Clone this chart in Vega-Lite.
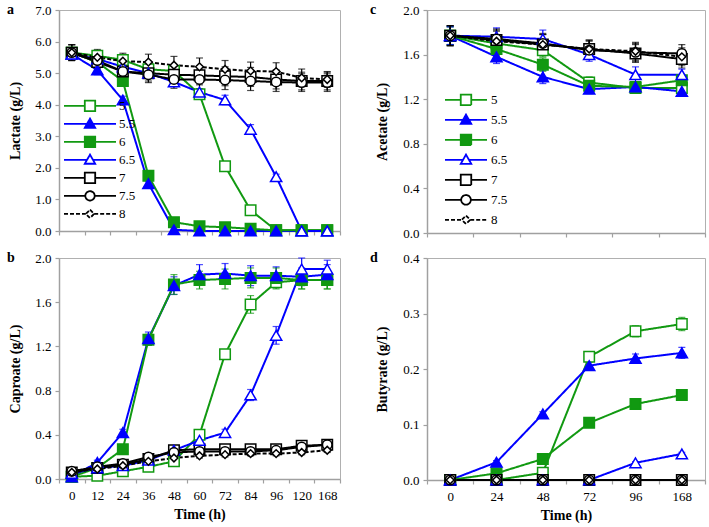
{
  "$schema": "https://vega.github.io/schema/vega-lite/v6.json",
  "padding": {"left": 6, "top": 2, "right": 2, "bottom": 2},
  "config": {
    "font": "Liberation Serif",
    "view": {"stroke": "#b0b0b0", "strokeWidth": 1},
    "axis": {"domainColor": "#a0a0a0", "domainWidth": 1.5, "tickColor": "#a0a0a0", "tickWidth": 1.2, "tickSize": 4, "grid": false, "labelFont": "Liberation Serif", "labelFontSize": 13, "labelColor": "#000000", "labelPadding": 4, "titleFont": "Liberation Serif", "titleFontSize": 14, "titleFontWeight": "bold", "titleColor": "#000000"},
    "title": {"font": "Liberation Serif", "fontSize": 14, "fontWeight": "bold", "color": "#000000", "anchor": "start", "frame": "group"}
  },
  "resolve": {
    "scale": {"fill": "independent", "stroke": "independent", "strokeDash": "independent", "shape": "independent"},
    "legend": {"fill": "independent", "stroke": "independent", "strokeDash": "independent", "shape": "independent"}
  },
  "columns": 2,
  "align": "each",
  "spacing": {"row": 9, "column": 27},
  "datasets": {
    "lactate": [
      {"t":0,"pH":"5","v":5.65,"e":0.1},{"t":12,"pH":"5","v":5.55,"e":0.1},{"t":24,"pH":"5","v":5.42,"e":0.1},{"t":36,"pH":"5","v":5.12,"e":0.1},{"t":48,"pH":"5","v":5.07,"e":0.1},{"t":60,"pH":"5","v":4.33,"e":0.12},{"t":72,"pH":"5","v":2.05,"e":0.1},{"t":84,"pH":"5","v":0.66,"e":0.08},{"t":96,"pH":"5","v":0.02,"e":0.02},{"t":120,"pH":"5","v":0.02,"e":0.02},{"t":168,"pH":"5","v":0.02,"e":0.02},
      {"t":0,"pH":"5.5","v":5.6,"e":0.1},{"t":12,"pH":"5.5","v":5.1,"e":0.15},{"t":24,"pH":"5.5","v":4.15,"e":0.12},{"t":36,"pH":"5.5","v":1.5,"e":0.06},{"t":48,"pH":"5.5","v":0.04,"e":0.02},{"t":60,"pH":"5.5","v":0.0,"e":0.01},{"t":72,"pH":"5.5","v":0.0,"e":0.01},{"t":84,"pH":"5.5","v":0.0,"e":0.01},{"t":96,"pH":"5.5","v":0.0,"e":0.01},{"t":120,"pH":"5.5","v":0.0,"e":0.01},{"t":168,"pH":"5.5","v":0.0,"e":0.01},
      {"t":0,"pH":"6","v":5.65,"e":0.1},{"t":12,"pH":"6","v":5.35,"e":0.1},{"t":24,"pH":"6","v":4.75,"e":0.1},{"t":36,"pH":"6","v":1.75,"e":0.08},{"t":48,"pH":"6","v":0.28,"e":0.03},{"t":60,"pH":"6","v":0.15,"e":0.02},{"t":72,"pH":"6","v":0.12,"e":0.02},{"t":84,"pH":"6","v":0.07,"e":0.02},{"t":96,"pH":"6","v":0.02,"e":0.01},{"t":120,"pH":"6","v":0.02,"e":0.01},{"t":168,"pH":"6","v":0.02,"e":0.01},
      {"t":0,"pH":"6.5","v":5.6,"e":0.1},{"t":12,"pH":"6.5","v":5.45,"e":0.1},{"t":24,"pH":"6.5","v":5.2,"e":0.1},{"t":36,"pH":"6.5","v":5.0,"e":0.1},{"t":48,"pH":"6.5","v":4.72,"e":0.12},{"t":60,"pH":"6.5","v":4.4,"e":0.1},{"t":72,"pH":"6.5","v":4.15,"e":0.15},{"t":84,"pH":"6.5","v":3.22,"e":0.15},{"t":96,"pH":"6.5","v":1.72,"e":0.08},{"t":120,"pH":"6.5","v":0.0,"e":0.01},{"t":168,"pH":"6.5","v":0.0,"e":0.01},
      {"t":0,"pH":"7","v":5.65,"e":0.25},{"t":12,"pH":"7","v":5.35,"e":0.25},{"t":24,"pH":"7","v":5.05,"e":0.25},{"t":36,"pH":"7","v":5.0,"e":0.25},{"t":48,"pH":"7","v":4.95,"e":0.28},{"t":60,"pH":"7","v":4.93,"e":0.3},{"t":72,"pH":"7","v":4.9,"e":0.3},{"t":84,"pH":"7","v":4.88,"e":0.3},{"t":96,"pH":"7","v":4.8,"e":0.3},{"t":120,"pH":"7","v":4.75,"e":0.28},{"t":168,"pH":"7","v":4.75,"e":0.28},
      {"t":0,"pH":"7.5","v":5.65,"e":0.25},{"t":12,"pH":"7.5","v":5.4,"e":0.25},{"t":24,"pH":"7.5","v":5.05,"e":0.25},{"t":36,"pH":"7.5","v":4.95,"e":0.25},{"t":48,"pH":"7.5","v":4.8,"e":0.28},{"t":60,"pH":"7.5","v":4.8,"e":0.3},{"t":72,"pH":"7.5","v":4.78,"e":0.3},{"t":84,"pH":"7.5","v":4.75,"e":0.3},{"t":96,"pH":"7.5","v":4.72,"e":0.3},{"t":120,"pH":"7.5","v":4.7,"e":0.28},{"t":168,"pH":"7.5","v":4.7,"e":0.28},
      {"t":0,"pH":"8","v":5.65,"e":0.25},{"t":12,"pH":"8","v":5.5,"e":0.25},{"t":24,"pH":"8","v":5.38,"e":0.25},{"t":36,"pH":"8","v":5.35,"e":0.25},{"t":48,"pH":"8","v":5.25,"e":0.28},{"t":60,"pH":"8","v":5.2,"e":0.28},{"t":72,"pH":"8","v":5.12,"e":0.28},{"t":84,"pH":"8","v":5.07,"e":0.28},{"t":96,"pH":"8","v":5.05,"e":0.28},{"t":120,"pH":"8","v":4.85,"e":0.28},{"t":168,"pH":"8","v":4.8,"e":0.25}
    ],
    "caproate": [
      {"t":0,"pH":"5","v":0.02,"e":0.01},{"t":12,"pH":"5","v":0.03,"e":0.01},{"t":24,"pH":"5","v":0.07,"e":0.01},{"t":36,"pH":"5","v":0.11,"e":0.02},{"t":48,"pH":"5","v":0.16,"e":0.02},{"t":60,"pH":"5","v":0.4,"e":0.03},{"t":72,"pH":"5","v":1.13,"e":0.04},{"t":84,"pH":"5","v":1.58,"e":0.08},{"t":96,"pH":"5","v":1.78,"e":0.06},{"t":120,"pH":"5","v":1.8,"e":0.08},{"t":168,"pH":"5","v":1.8,"e":0.08},
      {"t":0,"pH":"5.5","v":0.02,"e":0.01},{"t":12,"pH":"5.5","v":0.15,"e":0.02},{"t":24,"pH":"5.5","v":0.42,"e":0.03},{"t":36,"pH":"5.5","v":1.27,"e":0.06},{"t":48,"pH":"5.5","v":1.75,"e":0.08},{"t":60,"pH":"5.5","v":1.85,"e":0.09},{"t":72,"pH":"5.5","v":1.86,"e":0.09},{"t":84,"pH":"5.5","v":1.84,"e":0.09},{"t":96,"pH":"5.5","v":1.84,"e":0.08},{"t":120,"pH":"5.5","v":1.83,"e":0.08},{"t":168,"pH":"5.5","v":1.85,"e":0.09},
      {"t":0,"pH":"6","v":0.02,"e":0.01},{"t":12,"pH":"6","v":0.1,"e":0.01},{"t":24,"pH":"6","v":0.27,"e":0.02},{"t":36,"pH":"6","v":1.26,"e":0.05},{"t":48,"pH":"6","v":1.76,"e":0.09},{"t":60,"pH":"6","v":1.8,"e":0.08},{"t":72,"pH":"6","v":1.81,"e":0.09},{"t":84,"pH":"6","v":1.82,"e":0.09},{"t":96,"pH":"6","v":1.82,"e":0.09},{"t":120,"pH":"6","v":1.8,"e":0.08},{"t":168,"pH":"6","v":1.8,"e":0.08},
      {"t":0,"pH":"6.5","v":0.05,"e":0.01},{"t":12,"pH":"6.5","v":0.1,"e":0.01},{"t":24,"pH":"6.5","v":0.12,"e":0.01},{"t":36,"pH":"6.5","v":0.17,"e":0.02},{"t":48,"pH":"6.5","v":0.26,"e":0.02},{"t":60,"pH":"6.5","v":0.35,"e":0.03},{"t":72,"pH":"6.5","v":0.42,"e":0.03},{"t":84,"pH":"6.5","v":0.76,"e":0.05},{"t":96,"pH":"6.5","v":1.3,"e":0.08},{"t":120,"pH":"6.5","v":1.9,"e":0.1},{"t":168,"pH":"6.5","v":1.9,"e":0.08},
      {"t":0,"pH":"7","v":0.06,"e":0.01},{"t":12,"pH":"7","v":0.1,"e":0.01},{"t":24,"pH":"7","v":0.13,"e":0.01},{"t":36,"pH":"7","v":0.18,"e":0.02},{"t":48,"pH":"7","v":0.26,"e":0.02},{"t":60,"pH":"7","v":0.27,"e":0.02},{"t":72,"pH":"7","v":0.27,"e":0.02},{"t":84,"pH":"7","v":0.27,"e":0.02},{"t":96,"pH":"7","v":0.27,"e":0.02},{"t":120,"pH":"7","v":0.3,"e":0.02},{"t":168,"pH":"7","v":0.31,"e":0.02},
      {"t":0,"pH":"7.5","v":0.07,"e":0.01},{"t":12,"pH":"7.5","v":0.11,"e":0.01},{"t":24,"pH":"7.5","v":0.14,"e":0.01},{"t":36,"pH":"7.5","v":0.2,"e":0.02},{"t":48,"pH":"7.5","v":0.24,"e":0.02},{"t":60,"pH":"7.5","v":0.25,"e":0.02},{"t":72,"pH":"7.5","v":0.25,"e":0.02},{"t":84,"pH":"7.5","v":0.25,"e":0.02},{"t":96,"pH":"7.5","v":0.26,"e":0.02},{"t":120,"pH":"7.5","v":0.29,"e":0.02},{"t":168,"pH":"7.5","v":0.31,"e":0.02},
      {"t":0,"pH":"8","v":0.06,"e":0.01},{"t":12,"pH":"8","v":0.09,"e":0.01},{"t":24,"pH":"8","v":0.12,"e":0.01},{"t":36,"pH":"8","v":0.16,"e":0.02},{"t":48,"pH":"8","v":0.19,"e":0.02},{"t":60,"pH":"8","v":0.21,"e":0.02},{"t":72,"pH":"8","v":0.22,"e":0.02},{"t":84,"pH":"8","v":0.23,"e":0.02},{"t":96,"pH":"8","v":0.23,"e":0.02},{"t":120,"pH":"8","v":0.24,"e":0.02},{"t":168,"pH":"8","v":0.26,"e":0.02}
    ],
    "acetate": [
      {"t":0,"pH":"5","v":1.77,"e":0.08},{"t":24,"pH":"5","v":1.7,"e":0.06},{"t":48,"pH":"5","v":1.64,"e":0.06},{"t":72,"pH":"5","v":1.35,"e":0.05},{"t":96,"pH":"5","v":1.3,"e":0.04},{"t":168,"pH":"5","v":1.3,"e":0.04},
      {"t":0,"pH":"5.5","v":1.77,"e":0.08},{"t":24,"pH":"5.5","v":1.58,"e":0.06},{"t":48,"pH":"5.5","v":1.4,"e":0.06},{"t":72,"pH":"5.5","v":1.29,"e":0.04},{"t":96,"pH":"5.5","v":1.31,"e":0.04},{"t":168,"pH":"5.5","v":1.27,"e":0.04},
      {"t":0,"pH":"6","v":1.77,"e":0.08},{"t":24,"pH":"6","v":1.65,"e":0.06},{"t":48,"pH":"6","v":1.51,"e":0.06},{"t":72,"pH":"6","v":1.32,"e":0.05},{"t":96,"pH":"6","v":1.31,"e":0.04},{"t":168,"pH":"6","v":1.37,"e":0.04},
      {"t":0,"pH":"6.5","v":1.77,"e":0.08},{"t":24,"pH":"6.5","v":1.76,"e":0.08},{"t":48,"pH":"6.5","v":1.74,"e":0.08},{"t":72,"pH":"6.5","v":1.6,"e":0.06},{"t":96,"pH":"6.5","v":1.42,"e":0.07},{"t":168,"pH":"6.5","v":1.42,"e":0.05},
      {"t":0,"pH":"7","v":1.77,"e":0.09},{"t":24,"pH":"7","v":1.73,"e":0.09},{"t":48,"pH":"7","v":1.69,"e":0.09},{"t":72,"pH":"7","v":1.65,"e":0.08},{"t":96,"pH":"7","v":1.61,"e":0.08},{"t":168,"pH":"7","v":1.56,"e":0.08},
      {"t":0,"pH":"7.5","v":1.77,"e":0.09},{"t":24,"pH":"7.5","v":1.74,"e":0.09},{"t":48,"pH":"7.5","v":1.7,"e":0.09},{"t":72,"pH":"7.5","v":1.64,"e":0.08},{"t":96,"pH":"7.5","v":1.62,"e":0.08},{"t":168,"pH":"7.5","v":1.61,"e":0.08},
      {"t":0,"pH":"8","v":1.77,"e":0.09},{"t":24,"pH":"8","v":1.72,"e":0.09},{"t":48,"pH":"8","v":1.69,"e":0.09},{"t":72,"pH":"8","v":1.65,"e":0.08},{"t":96,"pH":"8","v":1.63,"e":0.08},{"t":168,"pH":"8","v":1.58,"e":0.08}
    ],
    "butyrate": [
      {"t":0,"pH":"5","v":0,"e":0},{"t":24,"pH":"5","v":0,"e":0},{"t":48,"pH":"5","v":0.013,"e":0.003},{"t":72,"pH":"5","v":0.222,"e":0.008},{"t":96,"pH":"5","v":0.268,"e":0.01},{"t":168,"pH":"5","v":0.281,"e":0.012},
      {"t":0,"pH":"5.5","v":0,"e":0},{"t":24,"pH":"5.5","v":0.032,"e":0.003},{"t":48,"pH":"5.5","v":0.119,"e":0.004},{"t":72,"pH":"5.5","v":0.206,"e":0.006},{"t":96,"pH":"5.5","v":0.219,"e":0.008},{"t":168,"pH":"5.5","v":0.229,"e":0.01},
      {"t":0,"pH":"6","v":0,"e":0},{"t":24,"pH":"6","v":0.012,"e":0.002},{"t":48,"pH":"6","v":0.038,"e":0.003},{"t":72,"pH":"6","v":0.103,"e":0.004},{"t":96,"pH":"6","v":0.137,"e":0.005},{"t":168,"pH":"6","v":0.153,"e":0.005},
      {"t":0,"pH":"6.5","v":0,"e":0},{"t":24,"pH":"6.5","v":0,"e":0},{"t":48,"pH":"6.5","v":0,"e":0},{"t":72,"pH":"6.5","v":0,"e":0},{"t":96,"pH":"6.5","v":0.031,"e":0.002},{"t":168,"pH":"6.5","v":0.047,"e":0.003},
      {"t":0,"pH":"7","v":0,"e":0},{"t":24,"pH":"7","v":0,"e":0},{"t":48,"pH":"7","v":0,"e":0},{"t":72,"pH":"7","v":0,"e":0},{"t":96,"pH":"7","v":0,"e":0},{"t":168,"pH":"7","v":0,"e":0},
      {"t":0,"pH":"7.5","v":0,"e":0},{"t":24,"pH":"7.5","v":0,"e":0},{"t":48,"pH":"7.5","v":0,"e":0},{"t":72,"pH":"7.5","v":0,"e":0},{"t":96,"pH":"7.5","v":0,"e":0},{"t":168,"pH":"7.5","v":0,"e":0},
      {"t":0,"pH":"8","v":0,"e":0},{"t":24,"pH":"8","v":0,"e":0},{"t":48,"pH":"8","v":0,"e":0},{"t":72,"pH":"8","v":0,"e":0},{"t":96,"pH":"8","v":0,"e":0},{"t":168,"pH":"8","v":0,"e":0}
    ]
  },
  "concat": [
    {
      "width": 281, "height": 221,
      "data": {"name": "lactate"},
      "title": {"text": "a", "offset": -13, "dx": -52},
      "encoding": {
        "x": {"field": "t", "type": "ordinal", "bandPosition": 0.5, "scale": {"type": "band", "paddingInner": 0, "paddingOuter": 0}, "axis": {"labels": false, "title": null, "tickBand": "extent"}},
        "y": {"field": "v", "type": "quantitative", "scale": {"domain": [0, 7], "nice": false}, "axis": {"title": "Lactate (g/L)", "values": [0,1,2,3,4,5,6,7], "format": ".1f", "titlePadding": 12}}
      },
      "layer": [
        {"mark": {"type": "errorbar", "ticks": {"size": 7}, "thickness": 1.2},
         "encoding": {"yError": {"field": "e"}, "color": {"field": "pH", "type": "nominal", "scale": {"domain": ["5","5.5","6","6.5","7","7.5","8"], "range": ["#119911","#0000ff","#119911","#0000ff","#000000","#000000","#000000"]}, "legend": null}}},
        {"mark": {"type": "line", "strokeWidth": 2},
         "encoding": {"color": {"field": "pH", "type": "nominal", "legend": null}, "strokeDash": {"field": "pH", "type": "nominal", "scale": {"domain": ["5","5.5","6","6.5","7","7.5","8"], "range": [[1,0],[1,0],[1,0],[1,0],[1,0],[1,0],[4,2]]}}}},
        {"transform": [{"filter": {"field": "pH", "oneOf": ["5","6","7"]}}],
         "mark": {"type": "point", "shape": "square", "size": 110, "filled": false, "strokeWidth": 1.5, "opacity": 1},
         "encoding": {"color": {"field": "pH", "type": "nominal", "legend": null}, "fill": {"field": "pH", "type": "nominal", "scale": {"domain": ["5","5.5","6","6.5","7","7.5","8"], "range": ["#ffffff","#0000ff","#119911","#ffffff","#ffffff","#ffffff","#ffffff"]}}}},
        {"transform": [{"filter": {"field": "pH", "oneOf": ["5.5","6.5"]}}],
         "mark": {"type": "point", "shape": "triangle-up", "size": 125, "filled": false, "strokeWidth": 1.5, "opacity": 1},
         "encoding": {"color": {"field": "pH", "type": "nominal", "legend": null}, "fill": {"field": "pH", "type": "nominal"}}},
        {"transform": [{"filter": {"field": "pH", "oneOf": ["7.5"]}}],
         "mark": {"type": "point", "shape": "circle", "size": 90, "filled": false, "strokeWidth": 1.5, "opacity": 1},
         "encoding": {"color": {"field": "pH", "type": "nominal", "legend": null}, "fill": {"field": "pH", "type": "nominal"}}},
        {"transform": [{"filter": {"field": "pH", "oneOf": ["8"]}}],
         "mark": {"type": "point", "shape": "diamond", "size": 60, "filled": false, "strokeWidth": 1.5, "opacity": 1},
         "encoding": {"color": {"field": "pH", "type": "nominal", "legend": null}, "fill": {"field": "pH", "type": "nominal"}}},
        {"mark": {"type": "point", "opacity": 0, "size": 1, "filled": true},
         "encoding": {
           "shape": {"field": "pH", "type": "nominal", "scale": {"domain": ["5","5.5","6","6.5","7","7.5","8"], "range": [
             "M-1,0H-0.2M0.2,0H1M-0.2,-0.2H0.2V0.2H-0.2Z",
             "M-1,0H-0.12M0.12,0H1M0,-0.2L0.2,0.15H-0.2Z",
             "M-1,0H-0.2M0.2,0H1M-0.2,-0.2H0.2V0.2H-0.2Z",
             "M-1,0H-0.12M0.12,0H1M0,-0.2L0.2,0.15H-0.2Z",
             "M-1,0H-0.2M0.2,0H1M-0.2,-0.2H0.2V0.2H-0.2Z",
             "M-1,0H-0.18M0.18,0H1M-0.18,0A0.18,0.18,0,1,1,0.18,0A0.18,0.18,0,1,1,-0.18,0Z",
             "M0,-0.16L0.16,0L0,0.16L-0.16,0ZM-1,0H-0.16M0.16,0H1"]},
             "legend": {"title": null, "orient": "none", "legendX": 4, "legendY": 87, "padding": 0, "symbolSize": 2704, "symbolStrokeWidth": 1.8, "symbolFillColor": "#ffffff", "clipHeight": 17.7, "rowPadding": 0, "labelFont": "Liberation Serif", "labelFontSize": 13, "labelColor": "#000000", "labelOffset": 2, "symbolOpacity": 1}},
           "stroke": {"field": "pH", "type": "nominal", "scale": {"domain": ["5","5.5","6","6.5","7","7.5","8"], "range": ["#119911","#0000ff","#119911","#0000ff","#000000","#000000","#000000"]}, "legend": {"title": null, "symbolFillColor": "#ffffff"}},
           "fill": {"field": "pH", "type": "nominal", "legend": {"title": null, "symbolFillColor": "#ffffff"}},
           "strokeDash": {"field": "pH", "type": "nominal", "legend": {"title": null, "symbolFillColor": "#ffffff"}}
         }}
      ]
    },
    {
      "width": 278, "height": 223,
      "data": {"name": "acetate"},
      "title": {"text": "c", "offset": -13, "dx": -57},
      "encoding": {
        "x": {"field": "t", "type": "ordinal", "bandPosition": 0.5, "scale": {"type": "band", "paddingInner": 0, "paddingOuter": 0}, "axis": {"labels": false, "title": null, "tickBand": "extent"}},
        "y": {"field": "v", "type": "quantitative", "scale": {"domain": [0, 2], "nice": false}, "axis": {"title": "Acetate (g/L)", "values": [0,0.4,0.8,1.2,1.6,2.0], "format": ".1f", "titlePadding": 13}}
      },
      "layer": [
        {"mark": {"type": "errorbar", "ticks": {"size": 7}, "thickness": 1.2},
         "encoding": {"yError": {"field": "e"}, "color": {"field": "pH", "type": "nominal", "scale": {"domain": ["5","5.5","6","6.5","7","7.5","8"], "range": ["#119911","#0000ff","#119911","#0000ff","#000000","#000000","#000000"]}, "legend": null}}},
        {"mark": {"type": "line", "strokeWidth": 2},
         "encoding": {"color": {"field": "pH", "type": "nominal", "legend": null}, "strokeDash": {"field": "pH", "type": "nominal", "scale": {"domain": ["5","5.5","6","6.5","7","7.5","8"], "range": [[1,0],[1,0],[1,0],[1,0],[1,0],[1,0],[4,2]]}}}},
        {"transform": [{"filter": {"field": "pH", "oneOf": ["5","6","7"]}}],
         "mark": {"type": "point", "shape": "square", "size": 110, "filled": false, "strokeWidth": 1.5, "opacity": 1},
         "encoding": {"color": {"field": "pH", "type": "nominal", "legend": null}, "fill": {"field": "pH", "type": "nominal", "scale": {"domain": ["5","5.5","6","6.5","7","7.5","8"], "range": ["#ffffff","#0000ff","#119911","#ffffff","#ffffff","#ffffff","#ffffff"]}}}},
        {"transform": [{"filter": {"field": "pH", "oneOf": ["5.5","6.5"]}}],
         "mark": {"type": "point", "shape": "triangle-up", "size": 125, "filled": false, "strokeWidth": 1.5, "opacity": 1},
         "encoding": {"color": {"field": "pH", "type": "nominal", "legend": null}, "fill": {"field": "pH", "type": "nominal"}}},
        {"transform": [{"filter": {"field": "pH", "oneOf": ["7.5"]}}],
         "mark": {"type": "point", "shape": "circle", "size": 90, "filled": false, "strokeWidth": 1.5, "opacity": 1},
         "encoding": {"color": {"field": "pH", "type": "nominal", "legend": null}, "fill": {"field": "pH", "type": "nominal"}}},
        {"transform": [{"filter": {"field": "pH", "oneOf": ["8"]}}],
         "mark": {"type": "point", "shape": "diamond", "size": 60, "filled": false, "strokeWidth": 1.5, "opacity": 1},
         "encoding": {"color": {"field": "pH", "type": "nominal", "legend": null}, "fill": {"field": "pH", "type": "nominal"}}},
        {"mark": {"type": "point", "opacity": 0, "size": 1, "filled": true},
         "encoding": {
           "shape": {"field": "pH", "type": "nominal", "scale": {"domain": ["5","5.5","6","6.5","7","7.5","8"], "range": [
             "M-1,0H-0.25M0.25,0H1M-0.25,-0.25H0.25V0.25H-0.25Z",
             "M-1,0H-0.15M0.15,0H1M0,-0.25L0.25,0.19H-0.25Z",
             "M-1,0H-0.25M0.25,0H1M-0.25,-0.25H0.25V0.25H-0.25Z",
             "M-1,0H-0.15M0.15,0H1M0,-0.25L0.25,0.19H-0.25Z",
             "M-1,0H-0.25M0.25,0H1M-0.25,-0.25H0.25V0.25H-0.25Z",
             "M-1,0H-0.23M0.23,0H1M-0.23,0A0.23,0.23,0,1,1,0.23,0A0.23,0.23,0,1,1,-0.23,0Z",
             "M0,-0.2L0.2,0L0,0.2L-0.2,0ZM-1,0H-0.2M0.2,0H1"]},
             "legend": {"title": null, "orient": "none", "legendX": 17, "legendY": 80, "padding": 0, "symbolSize": 1764, "symbolStrokeWidth": 1.8, "symbolFillColor": "#ffffff", "clipHeight": 19.7, "rowPadding": 0, "labelFont": "Liberation Serif", "labelFontSize": 13, "labelColor": "#000000", "labelOffset": 3, "symbolOpacity": 1}},
           "stroke": {"field": "pH", "type": "nominal", "scale": {"domain": ["5","5.5","6","6.5","7","7.5","8"], "range": ["#119911","#0000ff","#119911","#0000ff","#000000","#000000","#000000"]}, "legend": {"title": null, "symbolFillColor": "#ffffff"}},
           "fill": {"field": "pH", "type": "nominal", "legend": {"title": null, "symbolFillColor": "#ffffff"}},
           "strokeDash": {"field": "pH", "type": "nominal", "legend": {"title": null, "symbolFillColor": "#ffffff"}}
         }}
      ]
    },
    {
      "width": 281, "height": 221,
      "data": {"name": "caproate"},
      "title": {"text": "b", "offset": -13, "dx": -52},
      "encoding": {
        "x": {"field": "t", "type": "ordinal", "bandPosition": 0.5, "scale": {"type": "band", "paddingInner": 0, "paddingOuter": 0}, "axis": {"title": "Time (h)", "tickBand": "extent", "labelAngle": 0, "labelPadding": 6, "titlePadding": 5}},
        "y": {"field": "v", "type": "quantitative", "scale": {"domain": [0, 2], "nice": false}, "axis": {"title": "Caproate (g/L)", "values": [0,0.4,0.8,1.2,1.6,2.0], "format": ".1f", "titlePadding": 12}}
      },
      "layer": [
        {"mark": {"type": "errorbar", "ticks": {"size": 7}, "thickness": 1.2},
         "encoding": {"yError": {"field": "e"}, "color": {"field": "pH", "type": "nominal", "scale": {"domain": ["5","5.5","6","6.5","7","7.5","8"], "range": ["#119911","#0000ff","#119911","#0000ff","#000000","#000000","#000000"]}, "legend": null}}},
        {"mark": {"type": "line", "strokeWidth": 2},
         "encoding": {"color": {"field": "pH", "type": "nominal", "legend": null}, "strokeDash": {"field": "pH", "type": "nominal", "scale": {"domain": ["5","5.5","6","6.5","7","7.5","8"], "range": [[1,0],[1,0],[1,0],[1,0],[1,0],[1,0],[4,2]]}, "legend": null}}},
        {"transform": [{"filter": {"field": "pH", "oneOf": ["5","6","7"]}}],
         "mark": {"type": "point", "shape": "square", "size": 110, "filled": false, "strokeWidth": 1.5, "opacity": 1},
         "encoding": {"color": {"field": "pH", "type": "nominal", "legend": null}, "fill": {"field": "pH", "type": "nominal", "scale": {"domain": ["5","5.5","6","6.5","7","7.5","8"], "range": ["#ffffff","#0000ff","#119911","#ffffff","#ffffff","#ffffff","#ffffff"]}, "legend": null}}},
        {"transform": [{"filter": {"field": "pH", "oneOf": ["5.5","6.5"]}}],
         "mark": {"type": "point", "shape": "triangle-up", "size": 125, "filled": false, "strokeWidth": 1.5, "opacity": 1},
         "encoding": {"color": {"field": "pH", "type": "nominal", "legend": null}, "fill": {"field": "pH", "type": "nominal", "legend": null}}},
        {"transform": [{"filter": {"field": "pH", "oneOf": ["7.5"]}}],
         "mark": {"type": "point", "shape": "circle", "size": 90, "filled": false, "strokeWidth": 1.5, "opacity": 1},
         "encoding": {"color": {"field": "pH", "type": "nominal", "legend": null}, "fill": {"field": "pH", "type": "nominal", "legend": null}}},
        {"transform": [{"filter": {"field": "pH", "oneOf": ["8"]}}],
         "mark": {"type": "point", "shape": "diamond", "size": 60, "filled": false, "strokeWidth": 1.5, "opacity": 1},
         "encoding": {"color": {"field": "pH", "type": "nominal", "legend": null}, "fill": {"field": "pH", "type": "nominal", "legend": null}}}
      ]
    },
    {
      "width": 278, "height": 222,
      "data": {"name": "butyrate"},
      "title": {"text": "d", "offset": -13, "dx": -57},
      "encoding": {
        "x": {"field": "t", "type": "ordinal", "bandPosition": 0.5, "scale": {"type": "band", "paddingInner": 0, "paddingOuter": 0}, "axis": {"title": "Time (h)", "tickBand": "extent", "labelAngle": 0, "labelPadding": 6, "titlePadding": 5}},
        "y": {"field": "v", "type": "quantitative", "scale": {"domain": [0, 0.4], "nice": false}, "axis": {"title": "Butyrate (g/L)", "values": [0,0.1,0.2,0.3,0.4], "format": ".1f", "titlePadding": 13}}
      },
      "layer": [
        {"mark": {"type": "errorbar", "ticks": {"size": 7}, "thickness": 1.2},
         "encoding": {"yError": {"field": "e"}, "color": {"field": "pH", "type": "nominal", "scale": {"domain": ["5","5.5","6","6.5","7","7.5","8"], "range": ["#119911","#0000ff","#119911","#0000ff","#000000","#000000","#000000"]}, "legend": null}}},
        {"mark": {"type": "line", "strokeWidth": 2},
         "encoding": {"color": {"field": "pH", "type": "nominal", "legend": null}, "strokeDash": {"field": "pH", "type": "nominal", "scale": {"domain": ["5","5.5","6","6.5","7","7.5","8"], "range": [[1,0],[1,0],[1,0],[1,0],[1,0],[1,0],[4,2]]}, "legend": null}}},
        {"transform": [{"filter": {"field": "pH", "oneOf": ["5","6","7"]}}],
         "mark": {"type": "point", "shape": "square", "size": 110, "filled": false, "strokeWidth": 1.5, "opacity": 1},
         "encoding": {"color": {"field": "pH", "type": "nominal", "legend": null}, "fill": {"field": "pH", "type": "nominal", "scale": {"domain": ["5","5.5","6","6.5","7","7.5","8"], "range": ["#ffffff","#0000ff","#119911","#ffffff","#ffffff","#ffffff","#ffffff"]}, "legend": null}}},
        {"transform": [{"filter": {"field": "pH", "oneOf": ["5.5","6.5"]}}],
         "mark": {"type": "point", "shape": "triangle-up", "size": 125, "filled": false, "strokeWidth": 1.5, "opacity": 1},
         "encoding": {"color": {"field": "pH", "type": "nominal", "legend": null}, "fill": {"field": "pH", "type": "nominal", "legend": null}}},
        {"transform": [{"filter": {"field": "pH", "oneOf": ["7.5"]}}],
         "mark": {"type": "point", "shape": "circle", "size": 90, "filled": false, "strokeWidth": 1.5, "opacity": 1},
         "encoding": {"color": {"field": "pH", "type": "nominal", "legend": null}, "fill": {"field": "pH", "type": "nominal", "legend": null}}},
        {"transform": [{"filter": {"field": "pH", "oneOf": ["8"]}}],
         "mark": {"type": "point", "shape": "diamond", "size": 60, "filled": false, "strokeWidth": 1.5, "opacity": 1},
         "encoding": {"color": {"field": "pH", "type": "nominal", "legend": null}, "fill": {"field": "pH", "type": "nominal", "legend": null}}}
      ]
    }
  ]
}
